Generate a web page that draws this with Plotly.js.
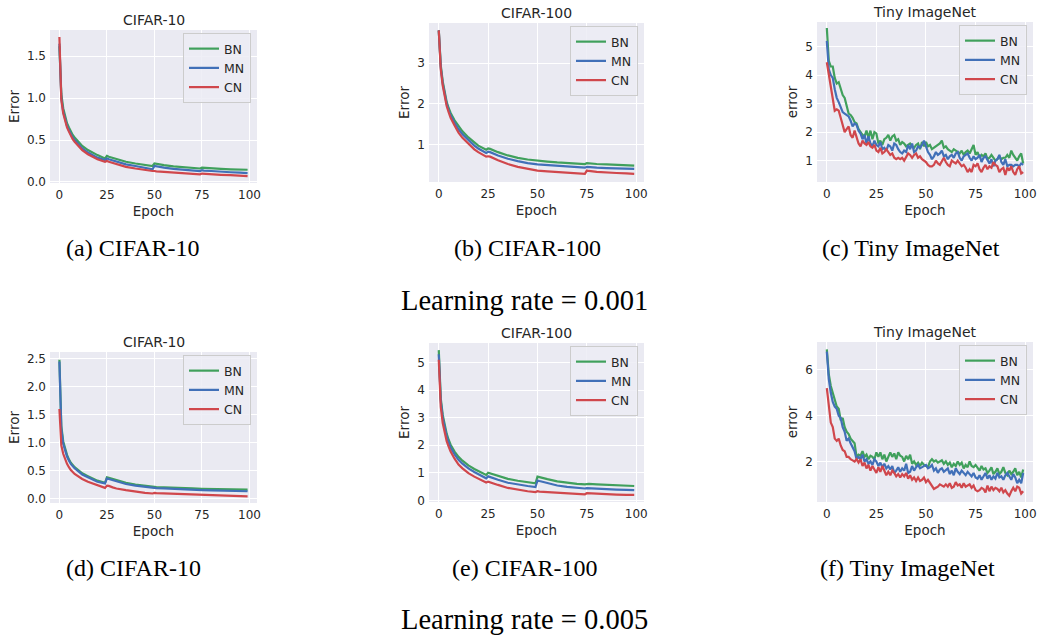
<!DOCTYPE html>
<html><head><meta charset="utf-8">
<script src="https://cdn.plot.ly/plotly-3.0.1.min.js"></script>
<style>html,body{margin:0;padding:0;background:#fff}#plot{width:1041px;height:636px}</style>
</head><body><div id="plot"></div>
<script>
// ---------- data ----------
const seriesNames = ["BN", "MN", "CN"];
const panelTitles = ["CIFAR-10", "CIFAR-100", "Tiny ImageNet", "CIFAR-10", "CIFAR-100", "Tiny ImageNet"];
const yTitles = ["Error", "Error", "error", "Error", "Error", "error"];
const captions = ["(a) CIFAR-10", "(b) CIFAR-100", "(c) Tiny ImageNet", "(d) CIFAR-10", "(e) CIFAR-100", "(f) Tiny ImageNet"];
const rowCaptions = ["Learning rate = 0.001", "Learning rate = 0.005"];
const xTickVals = [0, 25, 50, 75, 100];

// (a) CIFAR-10, lr 0.001
const epochsA = [0,1,2,3,4,5,6,7,8,10,12,15,18,20,24,25,26,30,35,40,45,49,50,51,55,60,65,70,74,75,76,80,85,90,95,99];
const bnA = [1.62,1.05,0.88,0.78,0.70,0.65,0.60,0.56,0.53,0.48,0.43,0.38,0.34,0.32,0.28,0.31,0.30,0.27,0.24,0.22,0.20,0.19,0.22,0.215,0.20,0.185,0.175,0.165,0.16,0.17,0.168,0.16,0.155,0.15,0.148,0.145];
const mnA = [1.65,1.00,0.84,0.74,0.67,0.62,0.57,0.53,0.50,0.45,0.40,0.35,0.31,0.29,0.26,0.28,0.27,0.24,0.21,0.19,0.17,0.15,0.19,0.185,0.17,0.155,0.145,0.135,0.13,0.14,0.135,0.13,0.12,0.115,0.11,0.105];
const cnA = [1.73,0.98,0.82,0.72,0.65,0.60,0.55,0.51,0.48,0.43,0.38,0.33,0.29,0.27,0.24,0.25,0.24,0.21,0.18,0.16,0.14,0.13,0.13,0.125,0.12,0.11,0.10,0.095,0.09,0.10,0.098,0.09,0.085,0.08,0.075,0.07];

// (b) CIFAR-100, lr 0.001
const epochsB = [0,1,2,3,4,5,6,8,10,12,15,18,20,24,25,26,30,35,40,45,50,55,60,65,70,74,75,76,80,85,90,95,99];
const bnB = [3.8,2.95,2.55,2.25,2.05,1.9,1.78,1.6,1.45,1.33,1.18,1.05,0.98,0.88,0.91,0.9,0.82,0.74,0.68,0.64,0.61,0.59,0.57,0.55,0.54,0.53,0.55,0.545,0.53,0.52,0.51,0.5,0.49];
const mnB = [3.8,2.9,2.5,2.2,2.0,1.85,1.72,1.54,1.38,1.26,1.11,0.98,0.91,0.80,0.83,0.82,0.74,0.66,0.60,0.55,0.52,0.50,0.48,0.46,0.45,0.44,0.46,0.455,0.44,0.43,0.42,0.415,0.41];
const cnB = [3.8,2.85,2.45,2.15,1.95,1.8,1.66,1.47,1.3,1.17,1.02,0.89,0.82,0.71,0.72,0.71,0.62,0.53,0.46,0.41,0.37,0.35,0.33,0.31,0.30,0.29,0.37,0.36,0.34,0.32,0.31,0.30,0.29];

// (c) Tiny ImageNet, lr 0.001 (every epoch 0..99)
const epochsC = [0,1,2,3,4,5,6,7,8,9,10,11,12,13,14,15,16,17,18,19,20,21,22,23,24,25,26,27,28,29,30,31,32,33,34,35,36,37,38,39,40,41,42,43,44,45,46,47,48,49,50,51,52,53,54,55,56,57,58,59,60,61,62,63,64,65,66,67,68,69,70,71,72,73,74,75,76,77,78,79,80,81,82,83,84,85,86,87,88,89,90,91,92,93,94,95,96,97,98,99];
const bnC = [5.65,4.5,4.3,4.3,3.9,3.7,3.75,3.5,3.3,3.2,2.9,2.65,2.6,2.5,2.35,2.3,2.1,2.0,1.9,1.85,2.05,1.8,2.05,1.75,2.0,1.95,1.6,1.7,1.55,1.75,1.8,1.9,1.7,1.85,1.9,1.7,1.75,1.55,1.65,1.6,1.5,1.55,1.6,1.5,1.45,1.55,1.6,1.4,1.65,1.5,1.65,1.5,1.55,1.4,1.45,1.5,1.55,1.6,1.7,1.45,1.5,1.4,1.35,1.3,1.4,1.35,1.3,1.25,1.35,1.2,1.3,1.35,1.25,1.4,1.55,1.2,1.3,1.1,1.2,1.15,1.25,1.05,1.1,1.2,1.1,1.0,1.05,1.15,1.05,1.1,1.1,1.2,1.1,1.35,1.2,1.1,1.0,1.15,1.25,0.9];
const mnC = [5.2,4.2,4.0,3.9,3.5,3.2,3.05,2.9,2.7,2.65,2.6,2.55,2.4,2.2,2.3,2.25,2.05,1.95,1.75,1.9,1.6,1.85,1.6,1.5,1.7,1.55,1.5,1.65,1.4,1.45,1.35,1.55,1.5,1.35,1.6,1.55,1.4,1.3,1.25,1.35,1.3,1.55,1.4,1.6,1.3,1.35,1.5,1.45,1.55,1.7,1.5,1.3,1.2,1.05,1.15,1.3,1.2,1.25,1.35,1.15,1.2,1.05,1.15,1.2,1.1,1.25,1.3,1.1,1.0,1.15,1.2,1.25,1.1,1.0,1.15,1.05,1.1,1.2,0.95,1.1,1.15,1.0,0.9,1.05,0.8,1.0,1.05,1.2,0.95,0.85,1.05,0.8,0.85,0.85,0.8,0.85,0.85,0.8,0.9,0.85];
const cnC = [4.45,4.0,3.5,3.1,2.75,2.8,2.75,2.5,2.2,2.0,2.1,2.2,1.9,1.8,2.05,1.85,1.6,1.5,1.7,1.6,1.55,1.65,1.5,1.45,1.55,1.35,1.3,1.45,1.25,1.3,1.4,1.3,1.2,1.25,1.1,1.05,1.1,1.05,1.1,1.0,1.15,1.25,1.2,1.1,1.2,1.25,1.1,1.15,1.05,1.0,0.95,0.85,0.8,0.8,0.85,1.0,0.9,0.85,1.0,1.1,0.95,0.85,0.8,1.0,0.95,0.9,1.0,0.9,0.8,0.85,0.75,0.6,0.7,0.6,0.85,0.8,0.9,0.7,0.6,0.75,0.85,0.7,0.8,0.75,0.95,0.85,0.8,0.6,0.7,0.75,0.5,0.75,0.65,0.8,0.6,0.5,0.7,0.8,0.55,0.6];

// (d) CIFAR-10, lr 0.005
const epochsD = [0,1,2,3,4,5,6,8,10,12,15,18,20,24,25,26,28,30,35,40,45,49,50,51,55,60,65,70,75,80,85,90,95,99];
const bnD = [2.48,1.3,1.02,0.88,0.78,0.7,0.64,0.56,0.5,0.45,0.4,0.35,0.32,0.28,0.38,0.37,0.35,0.32,0.28,0.25,0.23,0.21,0.21,0.205,0.2,0.19,0.185,0.18,0.175,0.17,0.17,0.165,0.165,0.16];
const mnD = [2.45,1.25,0.98,0.85,0.75,0.68,0.62,0.54,0.48,0.43,0.38,0.33,0.3,0.27,0.36,0.35,0.33,0.3,0.26,0.23,0.21,0.19,0.19,0.185,0.18,0.17,0.16,0.155,0.15,0.145,0.14,0.135,0.135,0.13];
const cnD = [1.6,0.95,0.8,0.7,0.62,0.56,0.51,0.44,0.39,0.35,0.3,0.26,0.24,0.19,0.23,0.225,0.2,0.18,0.15,0.12,0.1,0.09,0.1,0.095,0.09,0.08,0.07,0.065,0.06,0.055,0.05,0.05,0.045,0.04];

// (e) CIFAR-100, lr 0.005
const epochsE = [0,1,2,3,4,5,6,8,10,12,15,18,20,24,25,26,30,35,40,45,49,50,51,55,60,65,70,74,75,76,80,85,90,95,99];
const bnE = [5.45,3.7,3.1,2.7,2.42,2.2,2.02,1.77,1.58,1.44,1.27,1.14,1.06,0.92,1.0,0.98,0.88,0.78,0.71,0.66,0.62,0.86,0.84,0.77,0.69,0.64,0.6,0.58,0.6,0.595,0.58,0.56,0.55,0.54,0.52];
const mnE = [5.3,3.6,3.0,2.6,2.32,2.1,1.92,1.67,1.47,1.33,1.16,1.03,0.95,0.8,0.87,0.85,0.75,0.64,0.57,0.52,0.48,0.72,0.7,0.62,0.54,0.49,0.45,0.43,0.44,0.435,0.42,0.4,0.39,0.38,0.37];
const cnE = [5.1,3.4,2.8,2.42,2.15,1.95,1.77,1.51,1.3,1.16,0.99,0.86,0.78,0.65,0.68,0.66,0.56,0.45,0.38,0.33,0.3,0.33,0.32,0.3,0.27,0.25,0.23,0.22,0.26,0.255,0.24,0.22,0.21,0.2,0.2];

// (f) Tiny ImageNet, lr 0.005 (every epoch 0..99)
const epochsF = epochsC;
const bnF = [6.9,5.8,5.3,5.0,4.7,4.4,4.3,3.8,3.9,3.5,3.3,3.2,3.0,2.9,2.8,2.2,2.3,2.25,2.45,2.2,2.3,2.1,2.25,2.2,2.1,2.4,2.2,2.4,2.1,2.3,2.0,2.2,2.4,2.2,2.35,2.1,2.4,2.25,2.2,2.0,2.25,2.1,2.3,1.9,2.0,1.85,1.95,1.8,1.95,1.85,1.8,1.75,2.0,2.1,2.0,2.05,1.95,2.0,2.05,1.9,2.0,1.85,1.95,1.75,1.9,1.8,2.0,1.85,1.95,1.7,1.85,1.75,2.0,1.8,1.75,1.85,1.75,1.6,1.8,1.65,1.7,1.5,1.6,1.75,1.45,1.55,1.7,1.45,1.55,1.75,1.5,1.4,1.6,1.45,1.55,1.7,1.4,1.55,1.3,1.65];
const mnF = [6.8,5.6,5.0,4.6,4.4,4.3,4.0,3.9,3.5,3.3,2.9,3.0,2.8,2.6,2.45,2.1,2.2,2.1,2.3,2.0,2.1,1.9,2.0,1.85,2.1,2.0,1.8,1.95,1.75,1.9,1.7,1.8,1.65,1.8,1.5,1.6,1.75,1.55,1.7,1.6,1.9,1.5,1.55,1.8,1.6,1.75,1.85,1.7,1.75,1.8,1.85,1.7,1.75,1.85,1.6,1.7,1.5,1.65,1.7,1.55,1.65,1.7,1.45,1.6,1.4,1.7,1.55,1.45,1.6,1.5,1.4,1.55,1.45,1.35,1.5,1.3,1.25,1.4,1.2,1.35,1.5,1.25,1.4,1.2,1.35,1.25,1.5,1.3,1.35,1.2,1.4,1.5,1.35,1.2,1.45,1.3,1.05,1.2,1.05,1.5];
const cnF = [5.2,4.4,3.7,3.5,3.0,2.9,3.0,2.7,2.5,2.45,2.2,2.2,2.1,2.05,2.0,2.1,1.95,2.1,1.8,1.95,1.7,1.85,1.6,1.8,1.65,1.5,1.75,1.55,1.8,1.6,1.4,1.55,1.4,1.6,1.5,1.35,1.45,1.3,1.45,1.35,1.5,1.25,1.4,1.2,1.3,1.15,1.3,1.15,1.2,1.3,1.1,1.2,1.05,0.95,0.8,0.85,0.9,1.0,0.95,0.9,1.0,0.9,1.05,0.85,0.9,1.1,0.95,1.0,0.85,1.05,0.9,0.95,1.0,0.85,0.95,0.75,0.7,0.75,0.85,0.8,0.65,0.95,0.7,0.9,0.75,0.85,0.8,0.7,0.85,0.65,0.75,0.6,0.5,0.7,0.85,0.7,0.9,0.85,0.6,0.7];

// ---------- layout / style ----------
const W = 1041, H = 636;
const colors = ["#40a05c", "#4170b8", "#d0474c"];
const panels = [
  {x: epochsA, ys: [bnA, mnA, cnA], box: [50, 257, 30, 183], yr: [-0.013, 1.813], dt: 0.5, fmt: ".1f"},
  {x: epochsB, ys: [bnB, mnB, cnB], box: [429, 644, 23, 182], yr: [0.09, 3.98], dt: 1, fmt: "d"},
  {x: epochsC, ys: [bnC, mnC, cnC], box: [817, 1033, 22, 182], yr: [0.25, 5.86], dt: 1, fmt: "d"},
  {x: epochsD, ys: [bnD, mnD, cnD], box: [50, 257, 352, 503], yr: [-0.08, 2.62], dt: 0.5, fmt: ".1f"},
  {x: epochsE, ys: [bnE, mnE, cnE], box: [429, 644, 343, 502], yr: [-0.06, 5.71], dt: 1, fmt: "d"},
  {x: epochsF, ys: [bnF, mnF, cnF], box: [817, 1033, 342, 502], yr: [0.23, 7.22], dt: 2, fmt: "d"}
];
const captionPos = [[133, 248], [527, 248], [911, 248], [133, 568], [525, 568], [907, 568]];
const rowCaptionPos = [[524, 300], [524, 619]];

const txt = "#262626";
const sans = "DejaVu Sans, sans-serif";
const serif = "Liberation Serif, serif";

const traces = [];
const layout = {
  width: W, height: H, margin: {l: 0, r: 0, t: 0, b: 0},
  paper_bgcolor: "#ffffff", plot_bgcolor: "#eaeaf2", showlegend: true, annotations: []
};

panels.forEach((p, i) => {
  const k = i === 0 ? "" : String(i + 1);
  const [l, r, t, b] = p.box;
  const lgName = "legend" + k;
  p.ys.forEach((y, s) => {
    traces.push({
      type: "scatter", mode: "lines", x: p.x, y: y, name: seriesNames[s],
      xaxis: "x" + k, yaxis: "y" + k, legend: lgName,
      line: {color: colors[s], width: 2.2}, hoverinfo: "skip"
    });
  });
  layout["xaxis" + k] = {
    domain: [l / W, r / W], anchor: "y" + k, range: [-4.95, 103.95],
    tickvals: xTickVals, ticks: "", showline: false, zeroline: false,
    gridcolor: "#ffffff", gridwidth: 1, ticklabelstandoff: 3,
    tickfont: {family: sans, size: 12, color: txt},
    title: {text: "Epoch", font: {family: sans, size: 13.5, color: txt}, standoff: 5}
  };
  layout["yaxis" + k] = {
    domain: [1 - b / H, 1 - t / H], anchor: "x" + k, range: p.yr,
    dtick: p.dt, tick0: 0, tickformat: p.fmt, ticks: "", showline: false, zeroline: false,
    gridcolor: "#ffffff", gridwidth: 1, ticklabelstandoff: 3,
    tickfont: {family: sans, size: 12, color: txt},
    title: {text: yTitles[i], font: {family: sans, size: 13.5, color: txt}, standoff: 4}
  };
  layout["legend" + k] = {
    x: (r - 6) / W, y: 1 - (t + 3) / H, xanchor: "right", yanchor: "top",
    bgcolor: "rgba(236,236,244,0.85)", bordercolor: "#cccccc", borderwidth: 1,
    font: {family: sans, size: 12.5, color: txt}, itemwidth: 30, tracegroupgap: 0
  };
  layout.annotations.push({
    xref: "paper", yref: "paper", x: (l + r) / 2 / W, y: 1 - t / H,
    xanchor: "center", yanchor: "bottom", showarrow: false,
    text: panelTitles[i], font: {family: sans, size: 14, color: txt}
  });
  layout.annotations.push({
    xref: "paper", yref: "paper", x: captionPos[i][0] / W, y: 1 - captionPos[i][1] / H,
    xanchor: "center", yanchor: "middle", showarrow: false,
    text: captions[i], font: {family: serif, size: 24, color: "#000000"}
  });
});
rowCaptions.forEach((c, j) => {
  layout.annotations.push({
    xref: "paper", yref: "paper", x: rowCaptionPos[j][0] / W, y: 1 - rowCaptionPos[j][1] / H,
    xanchor: "center", yanchor: "middle", showarrow: false,
    text: c, font: {family: serif, size: 28.5, color: "#000000"}
  });
});

Plotly.newPlot("plot", traces, layout, {staticPlot: true, displayModeBar: false});
</script>
</body></html>
